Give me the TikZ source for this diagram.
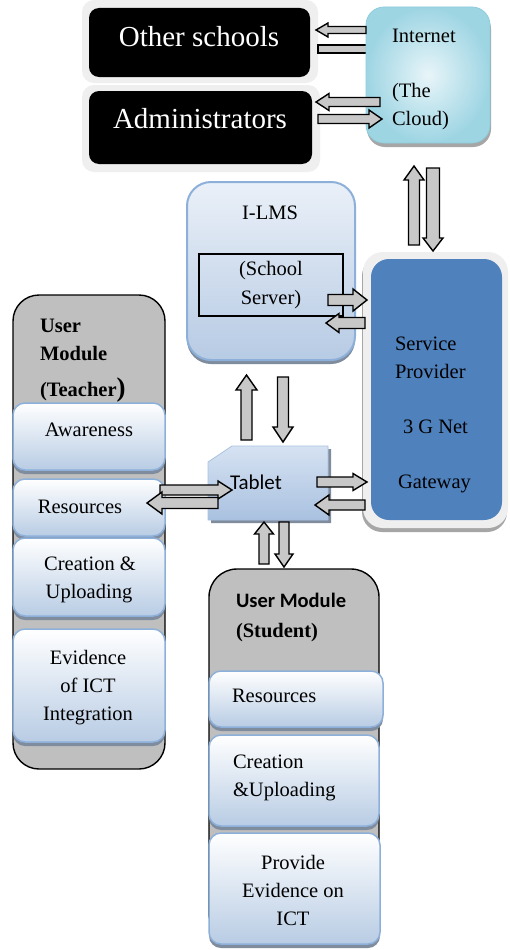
\documentclass[tikz,border=0pt]{standalone}
\usepackage{fontspec}
\setmainfont{Liberation Serif}
\newfontfamily\calibri{Carlito}
\usetikzlibrary{shadows}
\definecolor{arrgray}{HTML}{C8C8C8}
\definecolor{itembot}{HTML}{B8CCE4}
\definecolor{itemline}{HTML}{8DB0DA}
\definecolor{modgray}{HTML}{BFBFBF}
\definecolor{spblue}{HTML}{4F81BD}
\definecolor{halo}{HTML}{EFEFEF}
\definecolor{cloudin}{HTML}{E8F5F9}
\definecolor{cloudout}{HTML}{9ED5E3}
\definecolor{cloudline}{HTML}{8FCCDD}
\definecolor{ilmstop}{HTML}{EAF0F8}
\definecolor{ilmsbot}{HTML}{B7CBE4}
\definecolor{shadowc}{HTML}{7F8C9E}
\definecolor{tabtop}{HTML}{D6E2F2}
\definecolor{tabbot}{HTML}{A9C1E0}
% horizontal block arrow: tail x, tip x, centre y, shaft half, head half, head length
\newcommand\ArrH[6]{%
  \filldraw[barrow] (#1,{#3-#4}) -- ({#2-(#6)*sign(#2-#1)},{#3-#4}) -- ({#2-(#6)*sign(#2-#1)},{#3-#5}) -- (#2,#3) -- ({#2-(#6)*sign(#2-#1)},{#3+#5}) -- ({#2-(#6)*sign(#2-#1)},{#3+#4}) -- (#1,{#3+#4}) -- cycle;}
% vertical block arrow: tail y, tip y, centre x, shaft half, head half, head length
\newcommand\ArrV[6]{%
  \filldraw[barrow] ({#3-#4},#1) -- ({#3-#4},{#2-(#6)*sign(#2-#1)}) -- ({#3-#5},{#2-(#6)*sign(#2-#1)}) -- (#3,#2) -- ({#3+#5},{#2-(#6)*sign(#2-#1)}) -- ({#3+#4},{#2-(#6)*sign(#2-#1)}) -- ({#3+#4},#1) -- cycle;}
\begin{document}
\begin{tikzpicture}[x=1pt,y=-1pt,
  every node/.style={font=\fontsize{20.5}{28}\selectfont, inner sep=0pt, outer sep=0pt},
  box/.style={rectangle, anchor=north west},
  barrow/.style={fill=arrgray, draw=black, line width=1.4pt, line join=miter},
  item/.style={box, rounded corners=12pt, draw=itemline, line width=1.5pt,
    top color=white, bottom color=itembot,
    drop shadow={shadow xshift=0pt, shadow yshift=-4pt, fill=shadowc, opacity=1}},
  module/.style={box, fill=modgray, draw=black, line width=1.4pt, rounded corners=26pt},
  lbl/.style={anchor=base},
  lblw/.style={anchor=base west}
]
\useasboundingbox (0,0) rectangle (509,950);
\fill[white] (0,0) rectangle (509,950);

% ---------- black boxes ----------
\node[box, fill=halo, rounded corners=12pt, minimum width=236pt, minimum height=83pt] (schoolshalo) at (82,0) {};
\node[box, fill=black, rounded corners=10pt, minimum width=221pt, minimum height=69pt] (schools) at (89,8) {};
\node[lbl, text=white, font=\fontsize{29}{34}\selectfont] (schoolst) at (199,47) {Other schools};
\node[box, fill=halo, rounded corners=12pt, minimum width=238pt, minimum height=87pt] (adminhalo) at (82,85) {};
\node[box, fill=black, rounded corners=10pt, minimum width=223pt, minimum height=73pt] (admin) at (89,91) {};
\node[lbl, text=white, font=\fontsize{29}{34}\selectfont] (admint) at (200,128) {Administrators};

% bar hidden under the cloud
\filldraw[barrow] (318,45) rectangle (372,53);

% ---------- cloud ----------
\node[box, rounded corners=18pt, inner color=cloudin, outer color=cloudout, draw=cloudline, line width=0.8pt,
  minimum width=124pt, minimum height=136pt,
  drop shadow={shadow xshift=1pt, shadow yshift=-4pt, fill=gray!70, opacity=1}] (cloud) at (366,7) {};
\node[lblw] (inet) at (392,43) {Internet};
\node[lblw] (the) at (392,97) {(The};
\node[lblw] (cloudt) at (392,125) {Cloud)};

\ArrH{366}{316}{30}{3.5}{7}{12}
\ArrH{380}{316}{102}{4.5}{8.5}{13}
\ArrH{318}{382}{119}{4.5}{9}{13}

% ---------- vertical arrows cloud / service provider ----------
\ArrV{245}{166}{414}{5.5}{10}{14}
\ArrV{168}{251}{433}{6.5}{10}{13}

% ---------- I-LMS ----------
\node[box, rounded corners=24pt, draw=itemline, line width=2pt, top color=ilmstop, bottom color=ilmsbot,
  minimum width=168pt, minimum height=178pt,
  drop shadow={shadow xshift=0pt, shadow yshift=-4pt, fill=shadowc, opacity=1}] (ilms) at (187,182) {};
\node[lbl] (ilmst) at (270,219) {I-LMS};
\node[box, draw=black, line width=1.5pt, minimum width=144pt, minimum height=62pt] (server) at (199,254) {};
\node[lbl] (servt1) at (271,275) {(School};
\node[lbl] (servt2) at (271,304) {Server)};

% ---------- service provider ----------
\node[box, fill=halo, rounded corners=20pt, minimum width=145pt, minimum height=276pt,
  drop shadow={shadow xshift=-1pt, shadow yshift=-4pt, fill=gray!70, opacity=1}] (sphalo) at (363,252) {};
\node[box, fill=spblue, rounded corners=18pt, minimum width=131pt, minimum height=261pt] (sp) at (371,259) {};
\node[lblw] (spt1) at (395,350) {Service};
\node[lblw] (spt2) at (395,378) {Provider};
\node[lblw] (spt3) at (403,433) {3 G Net};
\node[lblw] (spt4) at (398,488) {Gateway};

% ---------- tablet ----------
\node[box, minimum width=120pt, minimum height=74pt] (tablet) at (208,446) {};
\path[top color=tabtop, bottom color=tabbot, draw=tabbot, line width=0.8pt,
  drop shadow={shadow xshift=3pt, shadow yshift=-3pt, fill=shadowc, opacity=1}]
  (tablet.north west) ++(24,0) -- (tablet.north east) -- (tablet.south east) -- (tablet.south west)
  -- ([yshift=-16pt]tablet.north west) -- cycle;
\node[lblw, font=\calibri\fontsize{21}{28}\selectfont] (tabt) at (230,489) {Tablet};

% ---------- teacher module ----------
\node[module, minimum width=152pt, minimum height=474pt] (teacher) at (13,295) {};
\node[lblw, font=\bfseries\fontsize{20.5}{28}\selectfont] (tt1) at (40,332) {User};
\node[lblw, font=\bfseries\fontsize{20.5}{28}\selectfont] (tt2) at (40,360) {Module};
\node[lblw, font=\bfseries\fontsize{20.5}{28}\selectfont] (tt3) at (40,396) {(Teacher{\fontsize{27}{30}\selectfont)}};
\node[item, minimum width=152pt, minimum height=67pt] (aware) at (13,403) {};
\node[lbl] (awaret) at (89,436) {Awareness};
\node[item, minimum width=152pt, minimum height=57pt] (tres) at (13,479) {};
\node[lbl] (trest) at (80,513) {Resources};
\node[item, minimum width=152pt, minimum height=78pt] (tcre) at (13,538) {};
\node[lbl] (tcret1) at (90,570) {Creation \&};
\node[lbl] (tcret2) at (89,598) {Uploading};
\node[item, minimum width=152pt, minimum height=113pt] (tevi) at (13,629) {};
\node[lbl] (tevit1) at (88,664) {Evidence};
\node[lbl] (tevit2) at (88,692) {of ICT};
\node[lbl] (tevit3) at (88,720) {Integration};

% ---------- student module ----------
\node[module, rounded corners=28pt, minimum width=170pt, minimum height=372pt] (student) at (209,569) {};
\node[lblw, font=\calibri\bfseries\fontsize{20.5}{28}\selectfont] (st1) at (236,607) {User Module};
\node[lblw, font=\bfseries\fontsize{20.5}{28}\selectfont] (st2) at (236,637) {(Student)};
\node[item, minimum width=174pt, minimum height=56pt] (sres) at (209,671) {};
\node[lblw] (srest) at (232,702) {Resources};
\node[item, minimum width=170pt, minimum height=91pt] (scre) at (209,735) {};
\node[lblw] (scret1) at (233,768) {Creation};
\node[lblw] (scret2) at (233,796) {\&Uploading};
\node[item, minimum width=171pt, minimum height=111pt] (sevi) at (209,833) {};
\node[lbl] (sevit1) at (293,869) {Provide};
\node[lbl] (sevit2) at (293,897) {Evidence on};
\node[lbl] (sevit3) at (293,925) {ICT};

% ---------- arrows on top ----------
% I-LMS <-> service provider
\ArrH{328}{367}{300}{5.5}{11}{14}
\ArrH{365}{326}{323}{5.5}{9.5}{13}
% I-LMS <-> tablet
\ArrV{440}{375}{246.5}{5.5}{10.5}{15}
\ArrV{377}{442}{283}{5.5}{10}{15}
% tablet <-> service provider
\ArrH{317}{367}{482}{5}{8.5}{14}
\ArrH{365}{315}{505}{5}{10}{14}
% tablet <-> teacher resources
\ArrH{160}{232}{490}{5}{9}{14}
\ArrH{218}{147}{503}{5.5}{11}{15}
% tablet <-> student
\ArrV{564}{522}{264}{5}{9.5}{12}
\ArrV{522}{567}{284}{5}{9}{13}
\end{tikzpicture}
\end{document}
